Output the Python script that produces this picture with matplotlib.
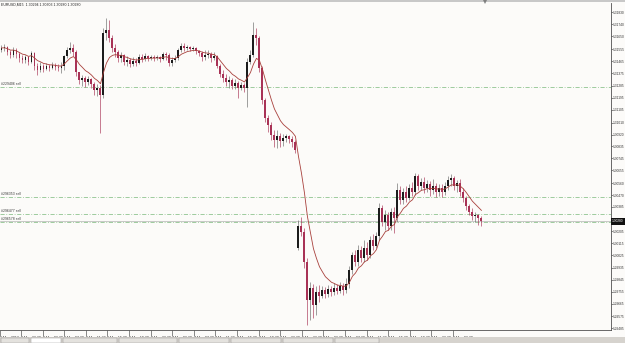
import matplotlib
matplotlib.use("Agg")
import matplotlib.pyplot as plt
from matplotlib.patches import Rectangle, Polygon
import pandas as pd

plt.rcParams['font.family'] = ['Liberation Sans', 'DejaVu Sans']

# ---------------- data (EURUSD candles) ----------------
title = "EURUSD,M15  1.30294 1.30303 1.30280 1.30280"

closes = [
    1.31564, 1.31571, 1.31534, 1.31512, 1.31549, 1.31519, 1.31490, 1.31475, 1.31497, 1.31460,
    1.31527, 1.31430, 1.31401, 1.31430, 1.31408, 1.31430, 1.31415, 1.31438, 1.31423, 1.31415,
    1.31430, 1.31504, 1.31549, 1.31564, 1.31534, 1.31386, 1.31326, 1.31341, 1.31312, 1.31334,
    1.31297, 1.31252, 1.31267, 1.31215, 1.31675, 1.31697, 1.31638, 1.31564, 1.31534, 1.31490,
    1.31512, 1.31460, 1.31475, 1.31445, 1.31467, 1.31453, 1.31497, 1.31482, 1.31504, 1.31490,
    1.31497, 1.31490, 1.31497, 1.31482, 1.31519, 1.31512, 1.31453, 1.31475, 1.31490, 1.31549,
    1.31579, 1.31564, 1.31571, 1.31556, 1.31564, 1.31542, 1.31527, 1.31497, 1.31512, 1.31519,
    1.31490, 1.31504, 1.31430, 1.31371, 1.31341, 1.31312, 1.31326, 1.31282, 1.31304, 1.31267,
    1.31289, 1.31267, 1.31460, 1.31512, 1.31660, 1.31638, 1.31415, 1.31178, 1.31044, 1.30992,
    1.30918, 1.30881, 1.30911, 1.30874, 1.30896, 1.30911, 1.30889, 1.30866, 1.30807, 1.30243,
    1.30199, 1.29976, 1.29694, 1.29783, 1.29657, 1.29753, 1.29724, 1.29768, 1.29739, 1.29776,
    1.29753, 1.29783, 1.29761, 1.29798, 1.29768, 1.29813, 1.29917, 1.30028, 1.29976, 1.30065,
    1.30006, 1.30080, 1.30028, 1.30139, 1.30095, 1.30169, 1.30377, 1.30273, 1.30325, 1.30243,
    1.30347, 1.30302, 1.30510, 1.30436, 1.30495, 1.30451, 1.30525, 1.30495, 1.30614, 1.30540,
    1.30570, 1.30525, 1.30555, 1.30510, 1.30540, 1.30495, 1.30525, 1.30495, 1.30540, 1.30584,
    1.30599, 1.30540, 1.30562, 1.30495, 1.30451, 1.30391, 1.30347, 1.30317, 1.30325, 1.30302,
    1.30280,
]
highs = [
    1.31586, 1.31594, 1.31579, 1.31549, 1.31571, 1.31564, 1.31534, 1.31512, 1.31512, 1.31504,
    1.31542, 1.31534, 1.31453, 1.31460, 1.31445, 1.31453, 1.31445, 1.31460, 1.31453, 1.31445,
    1.31460, 1.31512, 1.31571, 1.31608, 1.31594, 1.31549, 1.31386, 1.31363, 1.31356, 1.31356,
    1.31341, 1.31312, 1.31297, 1.31289, 1.31712, 1.31786, 1.31772, 1.31660, 1.31594, 1.31549,
    1.31534, 1.31519, 1.31504, 1.31490, 1.31497, 1.31490, 1.31519, 1.31519, 1.31527, 1.31512,
    1.31512, 1.31512, 1.31512, 1.31504, 1.31534, 1.31534, 1.31527, 1.31497, 1.31512, 1.31564,
    1.31601, 1.31601, 1.31586, 1.31579, 1.31579, 1.31571, 1.31549, 1.31542, 1.31549, 1.31549,
    1.31534, 1.31534, 1.31512, 1.31445, 1.31401, 1.31371, 1.31356, 1.31341, 1.31334, 1.31319,
    1.31312, 1.31304, 1.31490, 1.31549, 1.31757, 1.31712, 1.31653, 1.31430, 1.31193, 1.31067,
    1.31015, 1.30955, 1.30955, 1.30933, 1.30926, 1.30926, 1.30918, 1.30911, 1.30881, 1.30288,
    1.30310, 1.30228, 1.30006, 1.29828, 1.29813, 1.29798, 1.29805, 1.29798, 1.29790, 1.29805,
    1.29798, 1.29820, 1.29813, 1.29828, 1.29820, 1.29857, 1.29946, 1.30050, 1.30065, 1.30102,
    1.30095, 1.30139, 1.30124, 1.30169, 1.30184, 1.30199, 1.30414, 1.30399, 1.30362, 1.30347,
    1.30377, 1.30384, 1.30562, 1.30540, 1.30525, 1.30540, 1.30555, 1.30570, 1.30636, 1.30629,
    1.30599, 1.30607, 1.30584, 1.30577, 1.30592, 1.30562, 1.30555, 1.30555, 1.30570, 1.30614,
    1.30629, 1.30614, 1.30584, 1.30592, 1.30525, 1.30466, 1.30406, 1.30377, 1.30347, 1.30332,
    1.30317,
]
lows = [
    1.31534, 1.31542, 1.31512, 1.31490, 1.31497, 1.31490, 1.31460, 1.31453, 1.31453, 1.31438,
    1.31453, 1.31401, 1.31363, 1.31386, 1.31386, 1.31401, 1.31393, 1.31408, 1.31401, 1.31393,
    1.31378, 1.31401, 1.31490, 1.31527, 1.31504, 1.31356, 1.31297, 1.31282, 1.31274, 1.31289,
    1.31267, 1.31215, 1.31208, 1.30933, 1.31193, 1.31623, 1.31608, 1.31534, 1.31497, 1.31460,
    1.31460, 1.31438, 1.31430, 1.31423, 1.31430, 1.31430, 1.31445, 1.31460, 1.31467, 1.31467,
    1.31475, 1.31467, 1.31475, 1.31460, 1.31475, 1.31475, 1.31430, 1.31430, 1.31460, 1.31475,
    1.31534, 1.31542, 1.31549, 1.31542, 1.31542, 1.31519, 1.31504, 1.31467, 1.31475, 1.31490,
    1.31460, 1.31475, 1.31415, 1.31349, 1.31312, 1.31282, 1.31267, 1.31260, 1.31260, 1.31193,
    1.31252, 1.31237, 1.31126, 1.31445, 1.31497, 1.31586, 1.31386, 1.31148, 1.31015, 1.30941,
    1.30881, 1.30829, 1.30822, 1.30829, 1.30837, 1.30866, 1.30859, 1.30829, 1.30785, 1.30065,
    1.30169, 1.29931, 1.29508, 1.29546, 1.29560, 1.29583, 1.29679, 1.29709, 1.29709, 1.29716,
    1.29724, 1.29731, 1.29739, 1.29746, 1.29731, 1.29746, 1.29783, 1.29887, 1.29946, 1.29946,
    1.29976, 1.29976, 1.29991, 1.30006, 1.30065, 1.30080, 1.30139, 1.30243, 1.30213, 1.30213,
    1.30213, 1.30191, 1.30273, 1.30406, 1.30406, 1.30421, 1.30436, 1.30466, 1.30473, 1.30510,
    1.30510, 1.30488, 1.30495, 1.30466, 1.30481, 1.30458, 1.30466, 1.30458, 1.30473, 1.30510,
    1.30540, 1.30510, 1.30495, 1.30466, 1.30421, 1.30362, 1.30325, 1.30288, 1.30273, 1.30250,
    1.30243,
]
first_open = 1.31549
weekend_bar = 99          # first bar after the weekend gap
weekend_open = 1.30080

opens = [first_open] + closes[:-1]
opens[weekend_bar] = weekend_open

time_labels = ["2 May 2012", "2 May 23:30", "3 May 03:30", "3 May 07:30", "3 May 11:30",
               "3 May 15:30", "3 May 19:30", "3 May 23:30", "4 May 03:30", "4 May 07:30",
               "4 May 11:30", "4 May 15:30", "4 May 19:30", "4 May 23:30", "6 May 23:30",
               "7 May 03:30", "7 May 07:30", "7 May 11:30", "7 May 15:30", "7 May 19:30",
               "7 May 23:30", "8 May 03:30"]
time_label_bars = [-0.5, 6.5, 13.7, 20.9, 28.1, 35.3, 42.5, 49.7, 56.9, 64.1, 71.3,
                   78.5, 85.7, 92.9, 100.1, 107.3, 114.5, 121.7, 128.9, 136.1, 143.3, 150.5]

price_labels = ["1.31830", "1.31740", "1.31650", "1.31555", "1.31465", "1.31375", "1.31285",
                "1.31195", "1.31105", "1.31010", "1.30920", "1.30835", "1.30745", "1.30655",
                "1.30560", "1.30470", "1.30385", "1.30205", "1.30115", "1.30025",
                "1.29935", "1.29845", "1.29755", "1.29665", "1.29575", "1.29485"]

order_prices = [1.31274, 1.30458, 1.30332, 1.30273]
order_labels = ["#229406 sell", "#296353 sell", "#296477 sell", "#296578 sell"]
bid_price = 1.30280
ma_span = 8

# ---------------- figure ----------------
W, H = 625, 343
BG = "#fcfbf9"
fig = plt.figure(figsize=(W / 100, H / 100), dpi=100, facecolor=BG)
ax = fig.add_axes([0, (H - 330) / H, 611 / W, 327 / H])
ax.set_facecolor(BG)
ax.set_xlim(-0.5, 203.2)
ax.set_ylim(1.294714, 1.318977)

bull_col = "#1c1c1c"
bull_wick = "#6a6a6a"
bear_col = "#a83256"

for i, (o, h, l, c) in enumerate(zip(opens, highs, lows, closes)):
    top = max(h, o, c)
    bot = min(l, o, c)
    bull = c >= o
    ax.vlines(i, bot, top, color=bull_wick if bull else bear_col, lw=0.45, zorder=2)
    body_h = abs(c - o)
    if body_h < 0.000015:
        body_h = 0.000015
    ax.add_patch(Rectangle((i - 0.33, min(o, c)), 0.66, body_h,
                           facecolor=bull_col if bull else bear_col,
                           edgecolor='none', zorder=3))

ma = pd.Series(closes).ewm(span=ma_span, adjust=False).mean()
ax.plot(range(len(closes)), ma, color="#a8403c", lw=0.6, zorder=4)

for p, lab in zip(order_prices, order_labels):
    ax.axhline(p, color="#8fc48f", lw=0.6, dashes=(5, 2, 1, 2), zorder=1)
    ax.text(-0.3, p + 0.00005, lab, fontsize=2.5, color="#3a3a3a", va='bottom', ha='left')
ax.axhline(bid_price, color="#b4b4b4", lw=0.5, zorder=1)

# axes styling
for s in ['left', 'top']:
    ax.spines[s].set_visible(False)
for s in ['right', 'bottom']:
    ax.spines[s].set_color("#505050")
    ax.spines[s].set_linewidth(0.6)

ax.yaxis.tick_right()
ax.set_yticks([float(v) for v in price_labels])
ax.set_yticklabels(price_labels)
ax.tick_params(axis='y', length=1.2, width=0.4, pad=0.3, labelsize=2.35, colors="#303030")

ax.set_xticks(time_label_bars)
ax.set_xticklabels(time_labels)
ax.tick_params(axis='x', length=4, width=0.4, pad=0.5, labelsize=2.6, colors="#303030")
for t in ax.get_xticklabels():
    t.set_ha('left')

# current price box
fig.patches.append(Rectangle((611 / W, (H - 224.5) / H), 14 / W, 7 / H,
                             transform=fig.transFigure, facecolor="#101010",
                             edgecolor='none', zorder=5))
fig.text(612 / W, (H - 221) / H, "1.30280", fontsize=2.35, color="white",
         va='center', ha='left', zorder=6)

# title
fig.text(1 / W, (H - 5) / H, title, fontsize=2.5, color="#202020", va='center', ha='left')

# top border band and chart-shift marker
fig.patches.append(Rectangle((0, (H - 2) / H), 1, 2 / H, transform=fig.transFigure,
                             facecolor="#c8c8c8", edgecolor='none'))
fig.patches.append(Polygon([[483 / W, 1], [487 / W, 1], [485 / W, (H - 4) / H]],
                           closed=True, transform=fig.transFigure,
                           facecolor="#808080", edgecolor='none'))

# bottom tab strip
fig.patches.append(Rectangle((0, 0), 1, 6 / H, transform=fig.transFigure,
                             facecolor="#d6d3ce", edgecolor='none'))
tab_x = [0, 30, 62, 118, 178, 230, 282, 334, 380]
for k in range(len(tab_x) - 1):
    x0 = tab_x[k]
    w = tab_x[k + 1] - x0 - 2
    fig.patches.append(Rectangle(((x0 + 1) / W, 0.3 / H), w / W, 4.5 / H,
                                 transform=fig.transFigure,
                                 facecolor="#ffffff" if k == 1 else "#e4e2de",
                                 edgecolor="#8a8a8a", lw=0.3))

fig.savefig("out.png", dpi=100, facecolor=BG)
